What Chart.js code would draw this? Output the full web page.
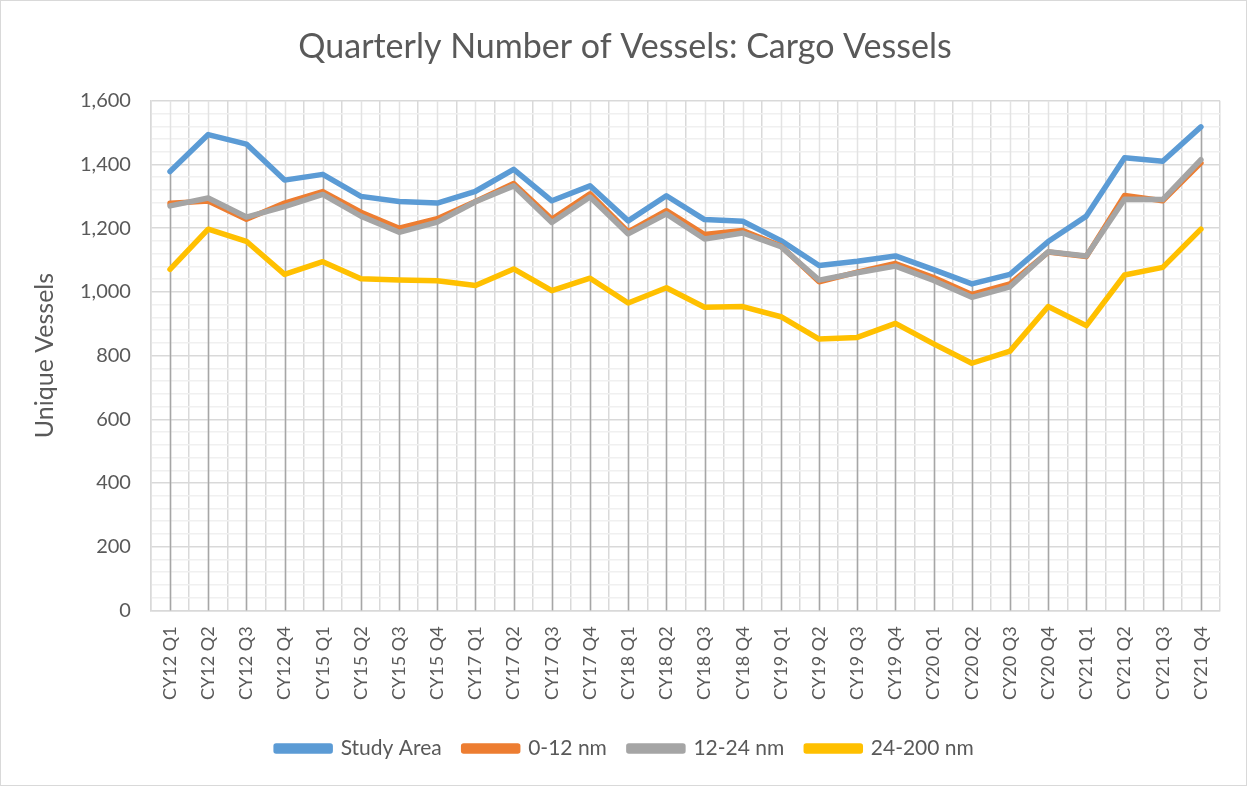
<!DOCTYPE html>
<html>
<head>
<meta charset="utf-8">
<title>Quarterly Number of Vessels: Cargo Vessels</title>
<script src="https://cdn.jsdelivr.net/npm/chart.js@4"></script>
<style>
  html, body { margin: 0; padding: 0; background: #fff; }
  #wrap { width: 1245px; height: 784px; border: 1px solid #d9d9d9; position: relative; }
</style>
</head>
<body>
<div id="wrap"><canvas id="vesselChart"></canvas></div>
<script>
'use strict';

// ============================================================
// DATA
// ============================================================
const quarters = [
  'CY12 Q1', 'CY12 Q2', 'CY12 Q3', 'CY12 Q4',
  'CY15 Q1', 'CY15 Q2', 'CY15 Q3', 'CY15 Q4',
  'CY17 Q1', 'CY17 Q2', 'CY17 Q3', 'CY17 Q4',
  'CY18 Q1', 'CY18 Q2', 'CY18 Q3', 'CY18 Q4',
  'CY19 Q1', 'CY19 Q2', 'CY19 Q3', 'CY19 Q4',
  'CY20 Q1', 'CY20 Q2', 'CY20 Q3', 'CY20 Q4',
  'CY21 Q1', 'CY21 Q2', 'CY21 Q3', 'CY21 Q4'
];
const studyArea = [1378, 1494, 1464, 1351, 1369, 1300, 1284, 1279, 1316, 1385, 1286, 1333,
                   1223, 1302, 1227, 1222, 1161, 1083, 1096, 1113, 1070, 1025, 1055, 1158,
                   1238, 1421, 1410, 1518];
const nm0to12 = [1278, 1285, 1228, 1279, 1315, 1250, 1200, 1230, 1284, 1340, 1228, 1308,
                 1188, 1255, 1180, 1193, 1144, 1032, 1062, 1089, 1045, 992, 1025, 1125,
                 1111, 1303, 1286, 1405];
const nm12to24 = [1270, 1295, 1235, 1268, 1306, 1238, 1187, 1219, 1283, 1333, 1218, 1298,
                  1182, 1245, 1166, 1185, 1142, 1037, 1060, 1081, 1036, 983, 1016, 1126,
                  1113, 1291, 1290, 1415];
const nm24to200 = [1071, 1197, 1159, 1055, 1095, 1041, 1037, 1035, 1020, 1072, 1004, 1043,
                   965, 1013, 952, 954, 922, 852, 857, 901, 837, 776, 814, 954,
                   894, 1053, 1077, 1197];
const yMin = 0, yMax = 1600, yMajor = 200, yMinor = 40;

const TEXT = '#595959';
const FONT = 'Lato, "Open Sans", sans-serif';

// ============================================================
// DROP LINES + CATEGORY CENTRE GRID
// ============================================================
const dropLines = {
  id: 'dropLines',
  beforeDatasetsDraw(chart) {
    const { ctx, chartArea, scales: { x, y } } = chart;
    ctx.save();
    quarters.forEach((q, i) => {
      const px = Math.round(x.getPixelForValue(i)) + 0.5;
      ctx.strokeStyle = '#e3e3e3';
      ctx.lineWidth = 1.5;
      ctx.beginPath(); ctx.moveTo(px, chartArea.top); ctx.lineTo(px, chartArea.bottom); ctx.stroke();
      const top = Math.max(...chart.data.datasets.map(d => d.data[i]));
      ctx.strokeStyle = '#a6a6a6';
      ctx.lineWidth = 1.5;
      ctx.beginPath(); ctx.moveTo(px, y.getPixelForValue(top)); ctx.lineTo(px, chartArea.bottom); ctx.stroke();
    });
    ctx.restore();
  }
};

// ============================================================
// CHART
// ============================================================
const series = (label, data, color, order) => ({
  label, data, order,
  borderColor: color, backgroundColor: color,
  borderWidth: 5.5, pointRadius: 0, tension: 0,
  borderCapStyle: 'round', borderJoinStyle: 'round'
});

new Chart(document.getElementById('vesselChart'), {
  type: 'line',
  data: {
    labels: quarters,
    datasets: [
      series('Study Area', studyArea, '#5B9BD5', 4),
      series('0-12 nm', nm0to12, '#ED7D31', 3),
      series('12-24 nm', nm12to24, '#A5A5A5', 2),
      series('24-200 nm', nm24to200, '#FFC000', 1)
    ]
  },
  options: {
    responsive: true, maintainAspectRatio: false, animation: false,
    layout: { padding: { left: 29, right: 26, top: 16, bottom: 16 } },
    plugins: {
      title: {
        display: true, text: 'Quarterly Number of Vessels: Cargo Vessels',
        color: TEXT, font: { family: FONT, size: 34, weight: 'normal' },
        padding: { top: 10, bottom: 33 }
      },
      legend: {
        position: 'bottom',
        labels: {
          color: TEXT, font: { family: FONT, size: 21 },
          boxWidth: 54, boxHeight: 5, padding: 22,
          sort: (a, b) => a.datasetIndex - b.datasetIndex
        }
      },
      tooltip: { enabled: false }
    },
    scales: {
      x: {
        offset: true,
        grid: { offset: true, color: '#d9d9d9', lineWidth: 1.5, drawTicks: false },
        border: { color: '#d9d9d9', width: 1.5 },
        ticks: {
          color: TEXT, font: { family: FONT, size: 18 },
          autoSkip: false, minRotation: 90, maxRotation: 90, padding: 16
        }
      },
      y: {
        min: yMin, max: yMax,
        title: {
          display: true, text: 'Unique Vessels',
          color: TEXT, font: { family: FONT, size: 25 }, padding: { top: 0, bottom: 0 }
        },
        grid: {
          drawTicks: false, lineWidth: 1.5,
          color: c => (c.tick.value % yMajor === 0 ? '#d9d9d9' : '#f0f0f0')
        },
        border: { color: '#d9d9d9', width: 1.5 },
        ticks: {
          stepSize: yMinor, autoSkip: false, padding: 20,
          color: TEXT, font: { family: FONT, size: 20 },
          callback: v => (v % yMajor === 0 ? v.toLocaleString('en-US') : '')
        }
      }
    }
  },
  plugins: [dropLines]
});
</script>
</body>
</html>
